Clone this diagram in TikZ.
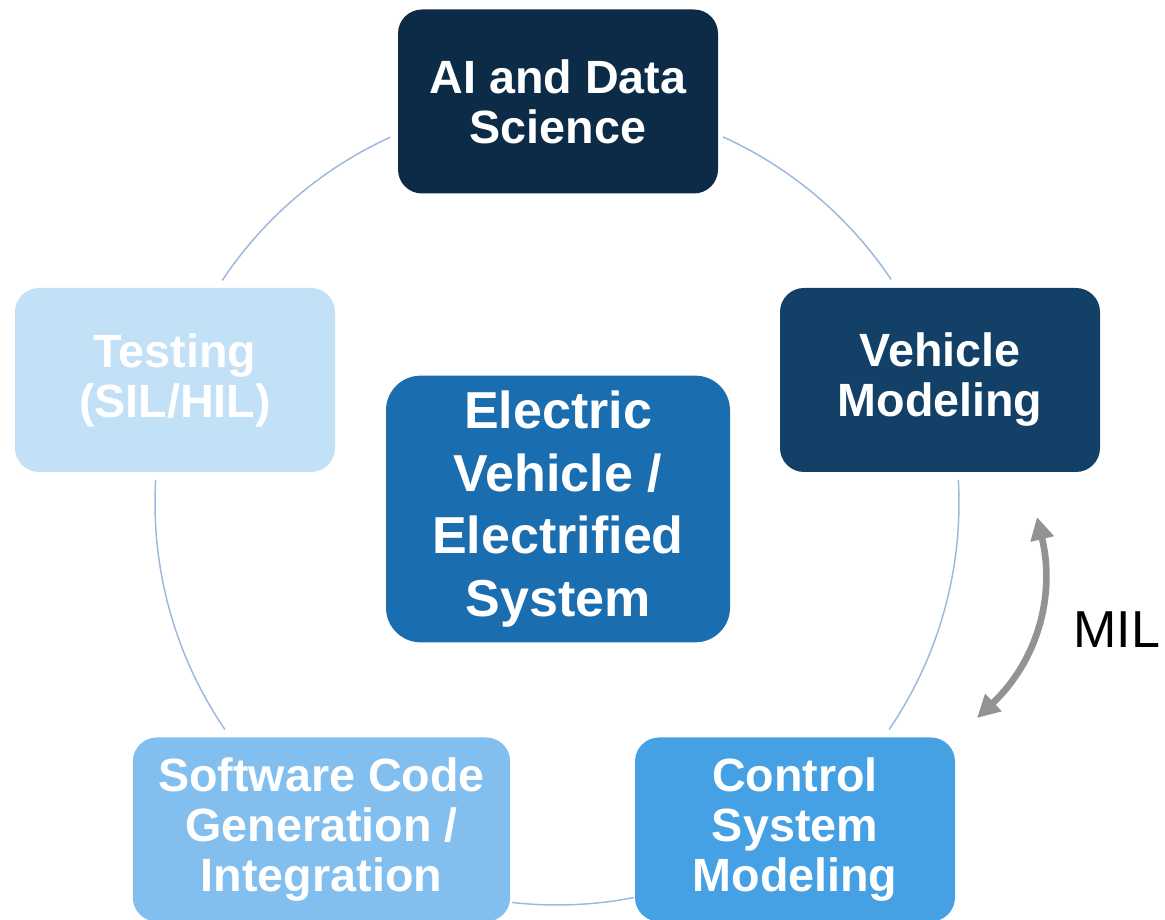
\documentclass[tikz,border=0pt]{standalone}
\usepackage{fontspec}
\setmainfont{Liberation Sans}
\usetikzlibrary{arrows.meta}

\definecolor{navy}{HTML}{0C2B46}
\definecolor{deepblue}{HTML}{124066}
\definecolor{midblue}{HTML}{1A6DAF}
\definecolor{brightblue}{HTML}{45A0E4}
\definecolor{skyblue}{HTML}{83BFEE}
\definecolor{paleblue}{HTML}{C2E0F6}
\definecolor{ringblue}{HTML}{9DB8DD}
\definecolor{arrowgray}{HTML}{939393}

\begin{document}
\begin{tikzpicture}[x=0.75pt,y=0.75pt]
\useasboundingbox (0,0) rectangle (1165,920);
\coordinate (ctr) at (557,417);
\begin{scope}[ring_line/.style={draw=ringblue,line width=1.1pt}]
    \foreach \a/\b in {65.6/33.8, 3.3/-34.3, -79/-96.4, -145.7/-183.3, 146.4/114.5}
        \draw [ring_line] (ctr) ++(\a:301.5pt) arc[start angle=\a, end angle=\b, radius=301.5pt];
\end{scope}
\begin{scope}[every node/.style={rounded corners=18pt,text=white,align=center,inner sep=0pt,
              minimum width=240pt,minimum height=138pt,
              font=\bfseries\fontsize{35}{37.5}\selectfont}]
    \node [fill=navy] (ai) at (558,818.5) {AI and Data\\Science};
    \node [fill=deepblue] (veh) at (940,540) {Vehicle\\Modeling};
    \node [fill=brightblue] (ctrl) at (795,90.5) {Control\\System\\Modeling};
    \node [fill=skyblue,minimum width=283pt] (soft) at (321.5,90.5) {Software Code\\Generation /\\Integration};
    \node [fill=paleblue] (test) at (175,540) {Testing\\(SIL/HIL)};
    \node [fill=midblue,rounded corners=26pt,minimum width=258pt,minimum height=200pt,
           font=\bfseries\fontsize{39}{47}\selectfont] (ev) at (558,411)
          {Electric\\Vehicle /\\Electrified\\System};
\end{scope}
\begin{scope}[>={Triangle[length=17pt,width=17pt]},
              mil_edge/.style={draw=arrowgray,fill=none,line width=5pt}]
    \coordinate (mil_top) at (1037,403);
    \coordinate (mil_bot) at (977,202);
    \path [<->] (mil_top) edge [mil_edge,bend left=30] (mil_bot);
    \node [font=\fontsize{39}{45}\selectfont] (mil) at (1117,290) {MIL};
\end{scope}
\end{tikzpicture}
\end{document}
